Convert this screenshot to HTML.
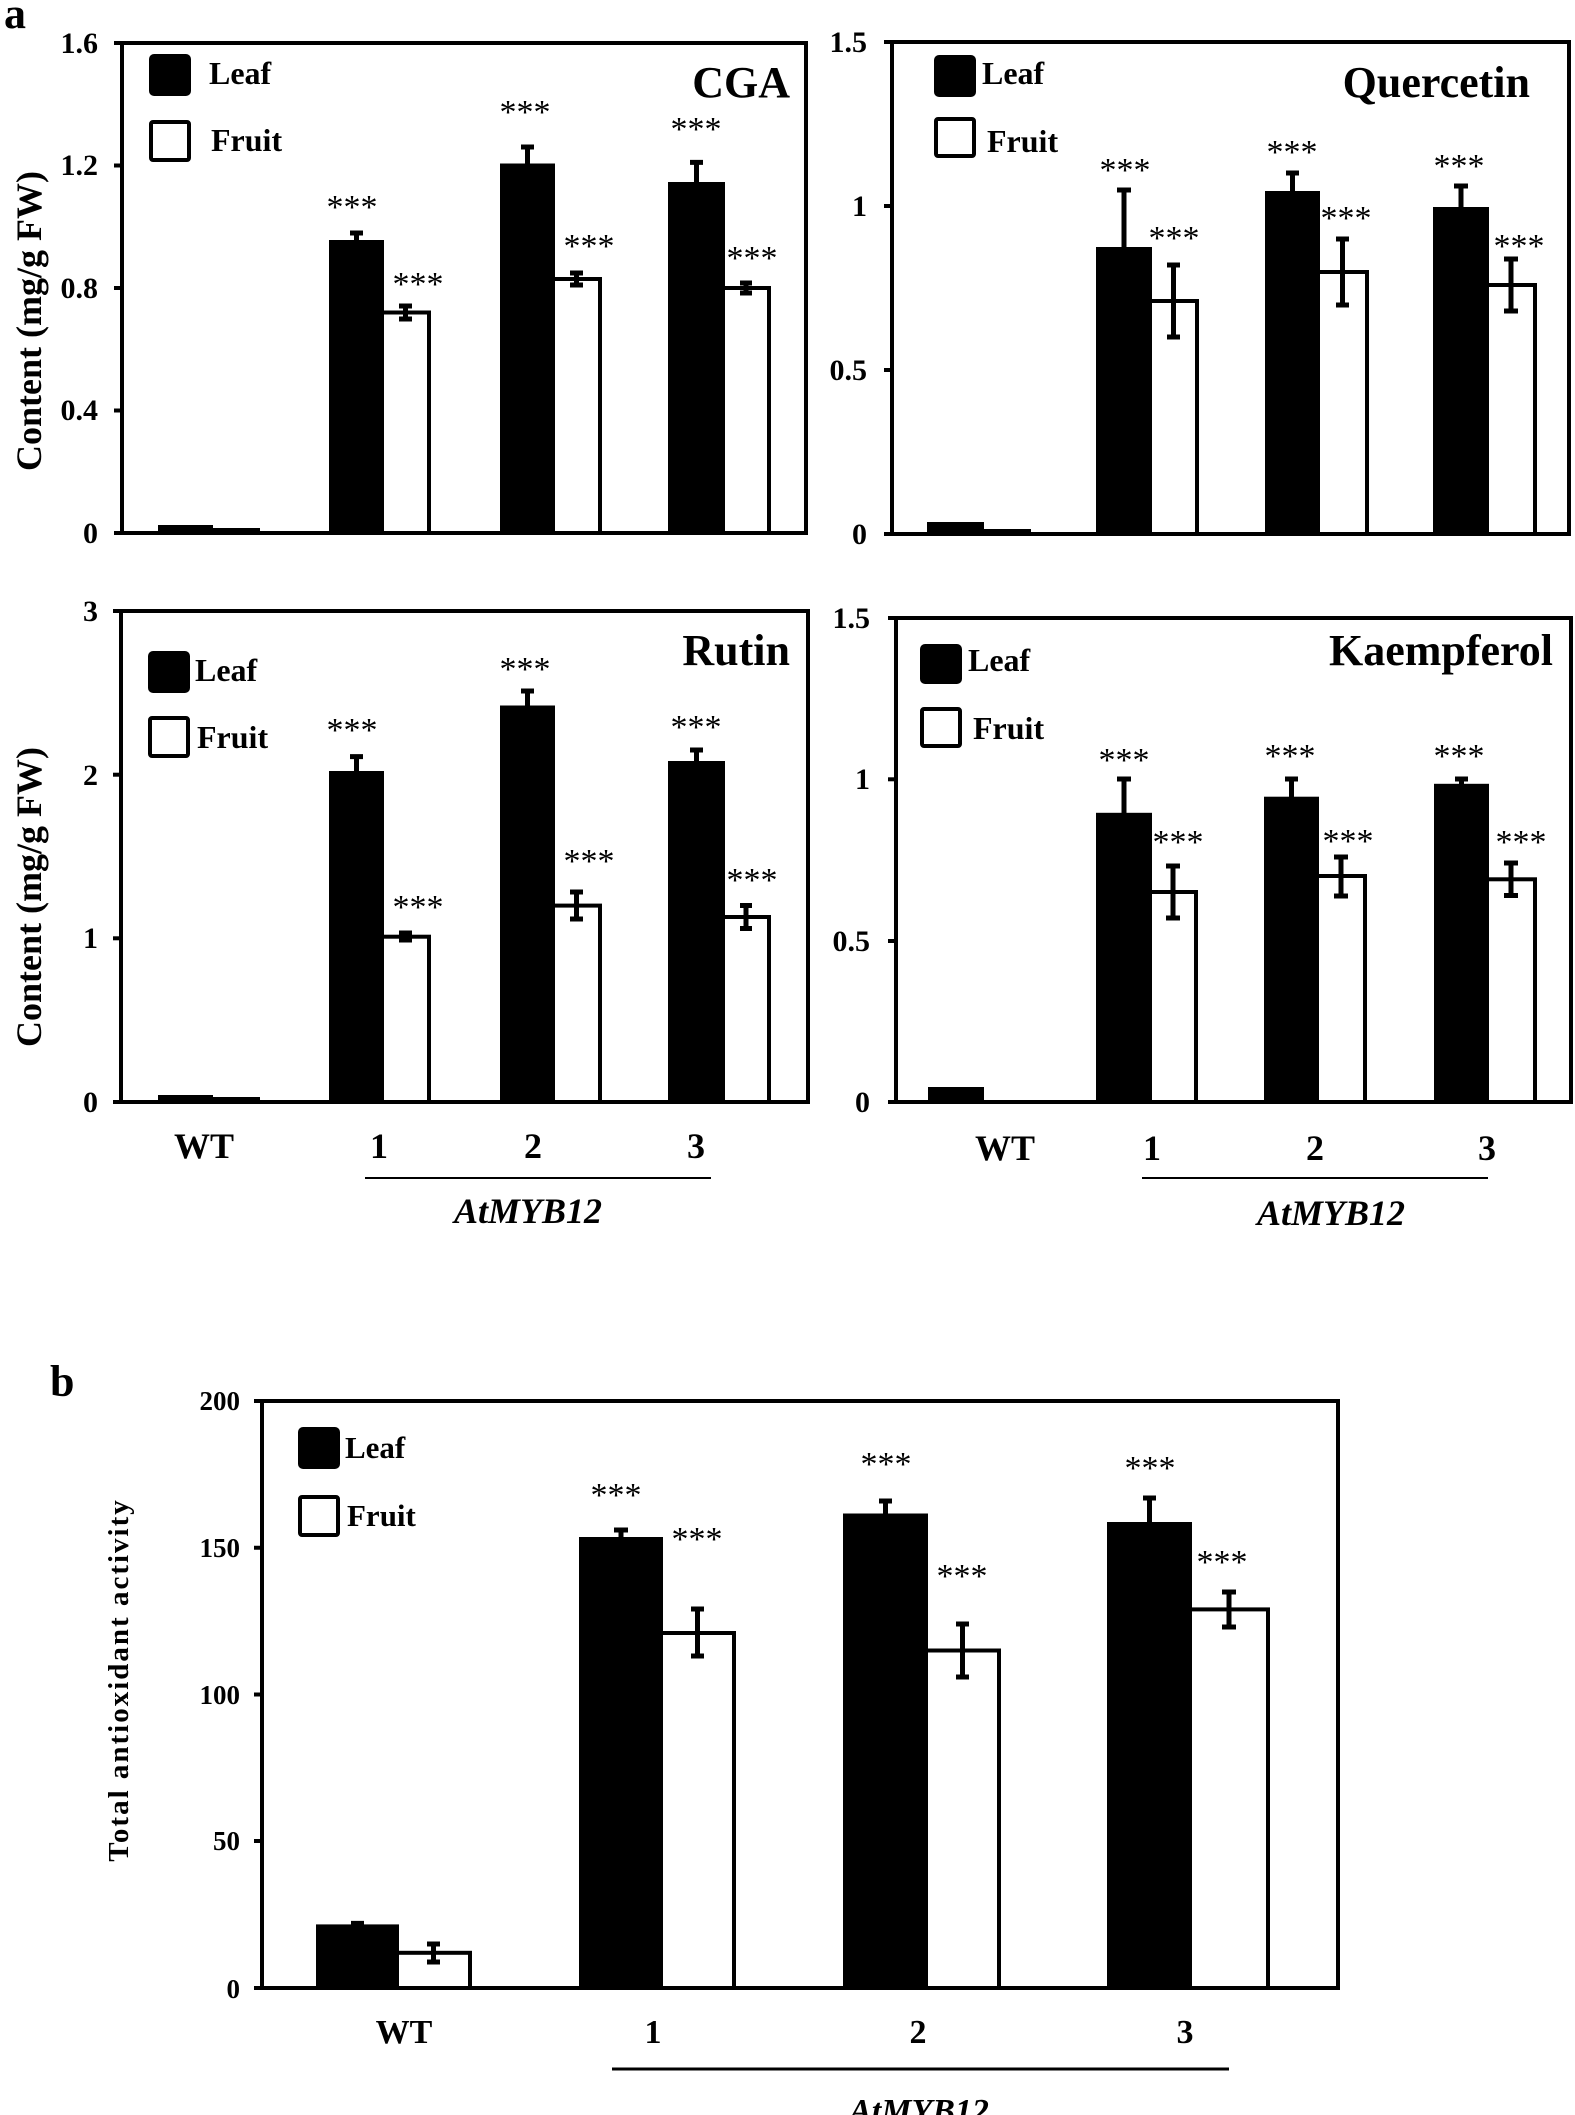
<!DOCTYPE html>
<html><head><meta charset="utf-8"><style>
html,body{margin:0;padding:0;background:#fff;}
svg{display:block;}
text{font-family:"Liberation Serif",serif;font-weight:bold;fill:#000;}
.t{font-size:30px;text-anchor:end;}
.lg{font-size:32px;}
.ti{font-size:44px;text-anchor:end;}
.st{font-size:34px;text-anchor:middle;font-weight:normal;}
.cx{font-size:36px;text-anchor:middle;}
.it{font-size:36px;text-anchor:middle;font-style:italic;}
</style></head><body>
<svg width="1575" height="2115" viewBox="0 0 1575 2115" xmlns="http://www.w3.org/2000/svg">
<g stroke="#000" fill="none" stroke-width="4">
<rect x="122" y="43" width="684" height="490"/>
<rect x="892" y="42" width="677" height="492"/>
<rect x="121" y="611" width="687" height="491"/>
<rect x="896" y="618" width="675" height="484"/>
<rect x="262" y="1401" width="1076" height="587"/>
</g>
<g stroke="#000" stroke-width="4">
<line x1="114" y1="533" x2="122" y2="533"/><line x1="114" y1="43" x2="122" y2="43"/><line x1="114" y1="165.5" x2="122" y2="165.5"/><line x1="114" y1="288" x2="122" y2="288"/><line x1="114" y1="410.5" x2="122" y2="410.5"/>
<line x1="884" y1="42" x2="892" y2="42"/><line x1="884" y1="206" x2="892" y2="206"/><line x1="884" y1="370" x2="892" y2="370"/><line x1="884" y1="534" x2="892" y2="534"/>
<line x1="113" y1="611" x2="121" y2="611"/><line x1="113" y1="774.7" x2="121" y2="774.7"/><line x1="113" y1="938.3" x2="121" y2="938.3"/><line x1="113" y1="1102" x2="121" y2="1102"/>
<line x1="888" y1="618" x2="896" y2="618"/><line x1="888" y1="779.3" x2="896" y2="779.3"/><line x1="888" y1="941" x2="896" y2="941"/><line x1="888" y1="1102" x2="896" y2="1102"/>
<line x1="254" y1="1401" x2="262" y2="1401"/><line x1="254" y1="1547.75" x2="262" y2="1547.75"/><line x1="254" y1="1694.5" x2="262" y2="1694.5"/><line x1="254" y1="1841" x2="262" y2="1841"/><line x1="254" y1="1988" x2="262" y2="1988"/>
</g>

<g stroke="#000" stroke-width="4">
<rect x="160" y="527" width="51" height="6" fill="#000"/>
<rect x="211" y="530" width="47" height="3" fill="#fff"/>
<rect x="331" y="242" width="51" height="291" fill="#000"/>
<rect x="382" y="312.5" width="47" height="220.5" fill="#fff"/>
<rect x="502" y="165.5" width="51" height="367.5" fill="#000"/>
<rect x="553" y="279" width="47" height="254" fill="#fff"/>
<rect x="670" y="184" width="53" height="349" fill="#000"/>
<rect x="723" y="288" width="46" height="245" fill="#fff"/>
<rect x="929" y="524" width="53" height="10" fill="#000"/>
<rect x="982" y="531" width="47" height="3" fill="#fff"/>
<rect x="1098" y="249" width="52" height="285" fill="#000"/>
<rect x="1150" y="301" width="47" height="233" fill="#fff"/>
<rect x="1267" y="193" width="51" height="341" fill="#000"/>
<rect x="1318" y="272" width="49" height="262" fill="#fff"/>
<rect x="1435" y="209" width="52" height="325" fill="#000"/>
<rect x="1487" y="285" width="48" height="249" fill="#fff"/>
<rect x="160" y="1097" width="51" height="5" fill="#000"/>
<rect x="211" y="1099" width="47" height="3" fill="#fff"/>
<rect x="331" y="773" width="51" height="329" fill="#000"/>
<rect x="382" y="936.7" width="47" height="165.3" fill="#fff"/>
<rect x="502" y="707.5" width="51" height="394.5" fill="#000"/>
<rect x="553" y="905.6" width="47" height="196.4" fill="#fff"/>
<rect x="670" y="763" width="53" height="339" fill="#000"/>
<rect x="723" y="917" width="46" height="185" fill="#fff"/>
<rect x="930" y="1089" width="52" height="13" fill="#000"/>
<rect x="1098" y="814.8" width="52" height="287.2" fill="#000"/>
<rect x="1150" y="892" width="46" height="210" fill="#fff"/>
<rect x="1266" y="798.7" width="51" height="303.3" fill="#000"/>
<rect x="1317" y="876" width="48" height="226" fill="#fff"/>
<rect x="1436" y="785.8" width="51" height="316.2" fill="#000"/>
<rect x="1487" y="879.3" width="48" height="222.7" fill="#fff"/>
<rect x="318" y="1926.4" width="79" height="61.6" fill="#000"/>
<rect x="397" y="1952.8" width="73" height="35.2" fill="#fff"/>
<rect x="581" y="1539" width="80" height="449" fill="#000"/>
<rect x="661" y="1633" width="73" height="355" fill="#fff"/>
<rect x="845" y="1515.5" width="81" height="472.5" fill="#000"/>
<rect x="926" y="1650.5" width="73" height="337.5" fill="#fff"/>
<rect x="1109" y="1524" width="81" height="464" fill="#000"/>
<rect x="1190" y="1609.4" width="78" height="378.6" fill="#fff"/>
</g>

<g stroke="#000" stroke-width="5">
<path d="M356.5 242V233M350 233H363 M405.5 306V319M399 306H412M399 319H412 M527.5 165.5V147M521 147H534 M576.5 273V285M570 273H583M570 285H583 M696.5 184V162.4M690 162.4H703 M746 283V293M740 283H752M740 293H752"/>
<path d="M1124 249V190M1117 190H1131 M1173.5 265V337M1167 265H1180M1167 337H1180 M1292.5 193V173M1286 173H1299 M1342.5 239V305M1336 239H1349M1336 305H1349 M1461 209V186M1454 186H1468 M1511 259V311M1504 259H1518M1504 311H1518"/>
<path d="M356.5 773V756.6M350 756.6H363 M405.5 933V940M399 933H412M399 940H412 M527.5 707.5V691M521 691H534 M576.5 892V919M570 892H583M570 919H583 M696.5 763V750M690 750H703 M746 905.5V928.5M740 905.5H752M740 928.5H752"/>
<path d="M1124 814.8V779M1117 779H1131 M1173 866V918M1166 866H1180M1166 918H1180 M1291.5 798.7V779M1285 779H1298 M1341 857V896M1334 857H1348M1334 896H1348 M1461.5 785.8V779M1455 779H1468 M1511 863V895.5M1504 863H1518M1504 895.5H1518"/>
<path d="M357.5 1926.4V1923.4M351 1923.4H364 M433.5 1944V1962M427 1944H440M427 1962H440 M621 1539V1530M614 1530H628 M697.5 1609V1656M691 1609H704M691 1656H704 M885.5 1515.5V1501M879 1501H892 M962.5 1624V1677M956 1624H969M956 1677H969 M1149.5 1524V1498M1143 1498H1156 M1229 1592V1627M1222 1592H1236M1222 1627H1236"/>
</g>

<g class="st">
<text class="st" x="352" y="218">***</text><text class="st" x="418" y="295">***</text>
<text class="st" x="525" y="123">***</text><text class="st" x="589" y="257">***</text>
<text class="st" x="696" y="140">***</text><text class="st" x="752" y="269">***</text>
<text class="st" x="1125" y="181">***</text><text class="st" x="1174" y="249">***</text>
<text class="st" x="1292" y="163">***</text><text class="st" x="1346" y="229">***</text>
<text class="st" x="1459" y="177">***</text><text class="st" x="1519" y="257">***</text>
<text class="st" x="352" y="741">***</text><text class="st" x="418" y="918">***</text>
<text class="st" x="525" y="680">***</text><text class="st" x="589" y="872">***</text>
<text class="st" x="696" y="738">***</text><text class="st" x="752" y="891">***</text>
<text class="st" x="1124" y="771">***</text><text class="st" x="1178" y="853">***</text>
<text class="st" x="1290" y="767">***</text><text class="st" x="1348" y="852">***</text>
<text class="st" x="1459" y="767">***</text><text class="st" x="1521" y="853">***</text>
<text class="st" x="616" y="1506">***</text><text class="st" x="697" y="1550">***</text>
<text class="st" x="886" y="1475">***</text><text class="st" x="962" y="1587">***</text>
<text class="st" x="1150" y="1479">***</text><text class="st" x="1222" y="1573">***</text>
</g>

<text class="t" x="98" y="53">1.6</text><text class="t" x="98" y="175">1.2</text><text class="t" x="98" y="298">0.8</text><text class="t" x="98" y="420">0.4</text><text class="t" x="98" y="543">0</text>
<text class="t" x="867" y="52">1.5</text><text class="t" x="867" y="216">1</text><text class="t" x="867" y="380">0.5</text><text class="t" x="867" y="544">0</text>
<text class="t" x="98" y="621">3</text><text class="t" x="98" y="785">2</text><text class="t" x="98" y="948">1</text><text class="t" x="98" y="1112">0</text>
<text class="t" x="870" y="628">1.5</text><text class="t" x="870" y="789">1</text><text class="t" x="870" y="951">0.5</text><text class="t" x="870" y="1112">0</text>
<text class="t" style="font-size:27px" x="240" y="1410">200</text><text class="t" style="font-size:27px" x="240" y="1557">150</text><text class="t" style="font-size:27px" x="240" y="1704">100</text><text class="t" style="font-size:27px" x="240" y="1850">50</text><text class="t" style="font-size:27px" x="240" y="1998">0</text>

<text class="ti" x="790" y="97">CGA</text>
<text class="ti" x="1530" y="97">Quercetin</text>
<text class="ti" x="790" y="665">Rutin</text>
<text class="ti" x="1553" y="665">Kaempferol</text>

<g stroke="#000" stroke-width="4">
<rect x="151" y="56" width="38" height="38" rx="3" fill="#000"/><rect x="151" y="122" width="38" height="38" rx="2" fill="#fff"/>
<rect x="936" y="57" width="38" height="38" rx="3" fill="#000"/><rect x="936" y="119" width="38" height="37" rx="2" fill="#fff"/>
<rect x="150" y="653" width="38" height="38" rx="3" fill="#000"/><rect x="150" y="718" width="38" height="38" rx="2" fill="#fff"/>
<rect x="922" y="646" width="38" height="36" rx="3" fill="#000"/><rect x="922" y="709" width="38" height="37" rx="2" fill="#fff"/>
<rect x="300" y="1429" width="38" height="38" rx="3" fill="#000"/><rect x="300" y="1497" width="38" height="38" rx="2" fill="#fff"/>
</g>
<text class="lg" x="209" y="84">Leaf</text><text class="lg" x="211" y="151">Fruit</text>
<text class="lg" x="982" y="84">Leaf</text><text class="lg" x="987" y="152">Fruit</text>
<text class="lg" x="195" y="681">Leaf</text><text class="lg" x="197" y="748">Fruit</text>
<text class="lg" x="968" y="671">Leaf</text><text class="lg" x="973" y="739">Fruit</text>
<text class="lg" style="font-size:31px" x="345" y="1458">Leaf</text><text class="lg" style="font-size:31px" x="347" y="1526">Fruit</text>

<text style="font-size:36px" text-anchor="middle" transform="translate(41,321) rotate(-90)">Content (mg/g FW)</text>
<text style="font-size:36px" text-anchor="middle" transform="translate(41,897) rotate(-90)">Content (mg/g FW)</text>
<text style="font-size:29px;letter-spacing:2px" text-anchor="middle" transform="translate(128,1680) rotate(-90)">Total antioxidant activity</text>

<text class="cx" x="204" y="1158">WT</text><text class="cx" x="379" y="1158">1</text><text class="cx" x="533" y="1158">2</text><text class="cx" x="696" y="1158">3</text>
<line x1="365" y1="1178" x2="711" y2="1178" stroke="#000" stroke-width="2"/>
<text class="it" x="528" y="1223">AtMYB12</text>
<text class="cx" x="1005" y="1160">WT</text><text class="cx" x="1152" y="1160">1</text><text class="cx" x="1315" y="1160">2</text><text class="cx" x="1487" y="1160">3</text>
<line x1="1142" y1="1178" x2="1488" y2="1178" stroke="#000" stroke-width="2"/>
<text class="it" x="1331" y="1225">AtMYB12</text>
<text class="cx" style="font-size:34px" x="404" y="2043">WT</text><text class="cx" style="font-size:34px" x="653" y="2043">1</text><text class="cx" style="font-size:34px" x="918" y="2043">2</text><text class="cx" style="font-size:34px" x="1185" y="2043">3</text>
<line x1="612" y1="2069" x2="1229" y2="2069" stroke="#000" stroke-width="3"/>
<text class="it" style="font-size:34px" x="919" y="2122">AtMYB12</text>

<text style="font-size:44px" x="4" y="28">a</text>
<text style="font-size:44px" x="50" y="1396">b</text>
</svg>
</body></html>
